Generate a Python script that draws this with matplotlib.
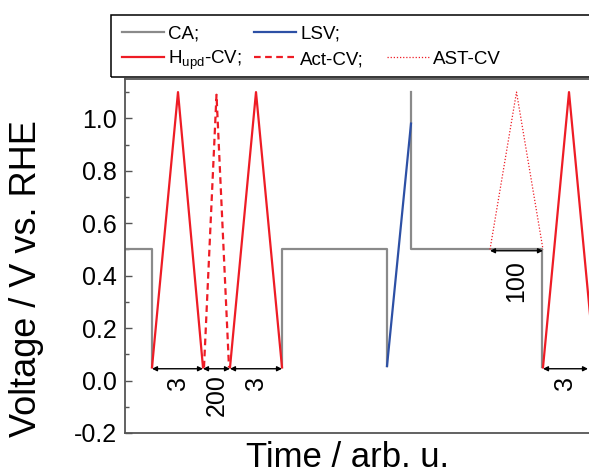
import numpy as np
import matplotlib.pyplot as plt
from matplotlib.lines import Line2D
from matplotlib.patches import Rectangle

plt.rcParams['font.family'] = ['Liberation Sans', 'DejaVu Sans']
plt.rcParams['mathtext.fontset'] = 'custom'
plt.rcParams['mathtext.rm'] = 'Liberation Sans'
plt.rcParams['mathtext.it'] = 'Liberation Sans:italic'

nan = np.nan

# potential program: time in arb. units, potential in V vs. RHE
ca_t = [0, 27, 27, nan, 157, 157, 262, 262, nan, 286.5, 286.5, 417.5, 417.5]
ca_v = [0.5, 0.5, 0.05, nan, 0.05, 0.5, 0.5, 0.055, nan, 1.1, 0.5, 0.5, 0.05]

hupd_t = [27, 53, 78, nan, 105, 131, 157, nan, 418, 444, 470]
hupd_v = [0.05, 1.1, 0.05, nan, 0.05, 1.1, 0.05, nan, 0.05, 1.1, 0.05]

act_t = [79, 91.5, 104]
act_v = [0.05, 1.09, 0.05]

ast_t = [365, 391.5, 418]
ast_v = [0.5, 1.1, 0.5]

lsv_t = [262, 286]
lsv_v = [0.055, 0.98]

# duration markers
span_start = [27, 78, 105, 365, 418]
span_end = [78, 105, 157, 418, 463]
span_v = [0.045, 0.045, 0.045, 0.495, 0.045]
span_text = ['3', '200', '3', '100', '3']
span_text_v = [-0.01, -0.054, -0.01, 0.379, -0.011]

RED = '#ee1c25'
GRAY = '#8a8a8a'
BLUE = '#2d50a5'
W, H = 589, 474

fig = plt.figure(figsize=(W / 100, H / 100), dpi=100)
ax = fig.add_axes([125 / W, 41 / H, 475 / W, 354 / H])

ax.plot(ca_t, ca_v, color=GRAY, lw=1.6)
ax.plot(hupd_t, hupd_v, color=RED, lw=1.6)
ax.plot(act_t, act_v, color=RED, lw=1.6, ls=(0, (3, 2)))
ax.plot(ast_t, ast_v, color=RED, lw=0.9, ls=(0, (1, 1.5)))
ax.plot(lsv_t, lsv_v, color=BLUE, lw=1.6)

for x0, x1, v, s, tv in zip(span_start, span_end, span_v, span_text, span_text_v):
    ax.annotate('', xy=(x1, v), xytext=(x0, v),
                arrowprops=dict(arrowstyle='<|-|>', color='black', lw=1,
                                mutation_scale=7, shrinkA=0, shrinkB=0))
    ax.text((x0 + x1) / 2, tv, s, rotation=90, ha='center', va='center',
            fontsize=18)

ax.set_xlim(0, 475)
ax.set_ylim(-0.2, 1.15)
ax.set_xticks([])
ax.set_yticks(np.arange(-0.2, 1.01, 0.2))
ax.set_yticks(np.arange(-0.1, 1.11, 0.2), minor=True)
ax.yaxis.set_major_formatter(plt.FormatStrFormatter('%.1f'))
ax.tick_params(axis='y', which='both', direction='in', labelsize=18,
               color='#555555', pad=6)
ax.tick_params(axis='y', which='major', length=5, width=1)
ax.tick_params(axis='y', which='minor', length=3, width=1)
for sp in ax.spines.values():
    sp.set_color('#555555')
    sp.set_linewidth(1.3)

ax.set_xlabel('Time / arb. u.', fontsize=25)
ax.xaxis.set_label_coords(0.468, -0.022)
ax.xaxis.label.set_va('top')
ax.set_ylabel('Voltage / V vs. RHE', fontsize=26)
ax.yaxis.set_label_coords(-0.17, 0.435)

# legend box above the axes
def fx(x):
    return x / W

def fy(y):
    return 1 - y / H

fig.add_artist(Rectangle((fx(111), fy(77)), fx(620) - fx(111), fy(15) - fy(77),
                         transform=fig.transFigure, fill=False,
                         edgecolor='black', lw=1.1))
entries = [
    (122, 31.7, 38.3, dict(color=GRAY, lw=1.6), 'CA;'),
    (254, 31.7, 38.3, dict(color=BLUE, lw=1.6), 'LSV;'),
    (122, 56.7, 64.3, dict(color=RED, lw=1.6), r'H$_{\mathrm{upd}}$-CV;'),
    (254, 56.7, 64.3, dict(color=RED, lw=1.6, ls=(0, (3, 2))), 'Act-CV;'),
    (387, 56.7, 64.3, dict(color=RED, lw=0.9, ls=(0, (1, 1.5))), 'AST-CV'),
]
for x, ly, base, style, label in entries:
    fig.add_artist(Line2D([fx(x), fx(x + 42)], [fy(ly), fy(ly)],
                          transform=fig.transFigure, **style))
    fig.text(fx(x + 46), fy(base), label, fontsize=13.5, ha='left',
             va='baseline')

fig.savefig('out.png', dpi=100)
